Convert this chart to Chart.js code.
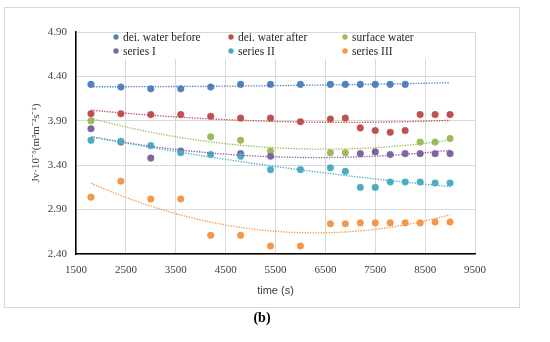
<!DOCTYPE html>
<html>
<head>
<meta charset="utf-8">
<script src="https://cdn.jsdelivr.net/npm/chart.js@4.4.0/dist/chart.umd.min.js"></script>
<style>
  html, body { margin: 0; padding: 0; background: #fff; }
  #wrap { position: relative; width: 550px; height: 342px; }
</style>
</head>
<body>
<div id="wrap"><canvas id="chart" width="550" height="342"></canvas></div>
<script>
"use strict";

// time points (s) shared by all series
const times = [1800, 2400, 3000, 3600, 4200, 4800, 5400, 6000, 6600, 6900, 7200, 7500, 7800, 8100, 8400, 8700, 9000];

// Jv values, null = no marker
const deiBefore = [4.31, 4.28, 4.26, 4.26, 4.28, 4.31, 4.31, 4.31, 4.31, 4.31, 4.31, 4.31, 4.31, 4.31, null, null, null];
const deiAfter = [3.98, 3.98, 3.97, 3.97, 3.95, 3.93, 3.93, 3.89, 3.92, 3.93, 3.82, 3.79, 3.77, 3.79, 3.97, 3.97, 3.97];
const surfaceWater = [3.90, null, null, null, 3.72, 3.68, 3.56, null, 3.54, 3.54, null, null, null, null, 3.66, 3.66, 3.70];
const seriesI = [3.81, 3.66, 3.48, 3.56, null, 3.53, 3.50, null, null, null, 3.53, 3.55, 3.52, 3.53, 3.53, 3.53, 3.53];
const seriesII = [3.68, 3.67, 3.62, 3.54, 3.52, 3.50, 3.35, 3.35, 3.37, 3.33, 3.15, 3.15, 3.21, 3.21, 3.21, 3.20, 3.20];
const seriesIII = [3.04, 3.22, 3.02, 3.02, 2.61, 2.61, 2.49, 2.49, 2.74, 2.74, 2.75, 2.75, 2.75, 2.75, 2.75, 2.76, 2.76];

const seriesNames = ['dei. water before', 'dei. water after', 'surface water', 'series I', 'series II', 'series III'];
const seriesValues = [deiBefore, deiAfter, surfaceWater, seriesI, seriesII, seriesIII];
const seriesColors = ['#4F81BD', '#C0504D', '#9BBB59', '#8064A2', '#4BACC6', '#F79646'];

const yTicks = [2.40, 2.90, 3.40, 3.90, 4.40, 4.90];
const xTicks = [1500, 2500, 3500, 4500, 5500, 6500, 7500, 8500, 9500];

// turn a value list into {x, y} points
function toPoints(vals) {
  const pts = [];
  vals.forEach((v, i) => { if (v !== null) pts.push({x: times[i], y: v}); });
  return pts;
}

// 2nd order polynomial trendline, like excel does it
function quadFit(pts) {
  const s = [0, 0, 0, 0, 0], t = [0, 0, 0];
  pts.forEach(p => {
    const x = p.x / 1000;
    for (let k = 0; k < 5; k++) s[k] += Math.pow(x, k);
    for (let k = 0; k < 3; k++) t[k] += p.y * Math.pow(x, k);
  });
  const m = [[s[0], s[1], s[2], t[0]], [s[1], s[2], s[3], t[1]], [s[2], s[3], s[4], t[2]]];
  for (let c = 0; c < 3; c++) {
    for (let r = c + 1; r < 3; r++) {
      const f = m[r][c] / m[c][c];
      for (let k = c; k < 4; k++) m[r][k] -= f * m[c][k];
    }
  }
  const a = [0, 0, 0];
  for (let r = 2; r >= 0; r--) {
    let v = m[r][3];
    for (let k = r + 1; k < 3; k++) v -= m[r][k] * a[k];
    a[r] = v / m[r][r];
  }
  return x => a[0] + a[1] * (x / 1000) + a[2] * (x / 1000) * (x / 1000);
}

const datasets = [];
seriesValues.forEach((vals, i) => {
  const pts = toPoints(vals);
  datasets.push({
    label: seriesNames[i],
    data: pts,
    showLine: false,
    pointRadius: 3.3,
    pointBorderWidth: 0.5,
    pointBackgroundColor: seriesColors[i],
    pointBorderColor: seriesColors[i],
    order: 20 - i
  });
  const f = quadFit(pts);
  const trend = [];
  for (let x = times[0]; x <= times[times.length - 1]; x += 100) trend.push({x: x, y: f(x)});
  datasets.push({
    label: 'trend ' + seriesNames[i],
    data: trend,
    showLine: true,
    pointRadius: 0,
    borderColor: seriesColors[i],
    borderWidth: 1.33,
    borderDash: [1.33, 1.33],
    tension: 0,
    order: 10 - i
  });
});

// legend sits inside the plot, two rows of three, white box over the grid
const insideLegend = {
  id: 'insideLegend',
  afterDraw(chart) {
    const ctx = chart.ctx;
    ctx.save();
    ctx.fillStyle = '#fff';
    ctx.fillRect(chart.chartArea.left + 1, chart.chartArea.top + 1, chart.chartArea.width - 8, 26);
    const cols = [116, 231, 345];
    const rows = [37, 51];
    ctx.font = '11.5px "Liberation Serif", serif';
    ctx.textBaseline = 'middle';
    seriesNames.forEach((name, i) => {
      const x = cols[i % 3], y = rows[Math.floor(i / 3)];
      ctx.beginPath();
      ctx.arc(x, y, 2.7, 0, Math.PI * 2);
      ctx.fillStyle = seriesColors[i];
      ctx.fill();
      ctx.fillStyle = '#262626';
      ctx.fillText(name, x + 7, y + 0.5);
    });
    // frame round the chart and the panel letter
    ctx.strokeStyle = '#d9d9d9';
    ctx.lineWidth = 1;
    ctx.strokeRect(4.5, 7.5, 515, 300);
    ctx.fillStyle = '#000';
    ctx.font = 'bold 14px "Liberation Serif", serif';
    ctx.textAlign = 'center';
    ctx.fillText('(b)', 262, 318);
    ctx.restore();
  }
};

const chart = new Chart(document.getElementById('chart'), {
  type: 'scatter',
  data: {datasets: datasets},
  plugins: [insideLegend],
  options: {
    responsive: false,
    animation: false,
    devicePixelRatio: 1,
    layout: {padding: {left: 28, top: 32, right: 75, bottom: 44}},
    plugins: {
      legend: {display: false},
      tooltip: {enabled: false}
    },
    scales: {
      x: {
        type: 'linear',
        min: xTicks[0],
        max: xTicks[xTicks.length - 1],
        afterFit: s => { s.height = 44; },
        afterBuildTicks: s => { s.ticks = xTicks.map(v => ({value: v})); },
        ticks: {
          padding: 10,
          color: '#404040',
          font: {family: '"Liberation Serif", serif', size: 11},
          callback: v => String(v)
        },
        grid: {color: '#d9d9d9', drawTicks: false},
        border: {color: '#000', width: 1.5},
        title: {
          display: true,
          text: 'time (s)',
          color: '#404040',
          padding: {top: 2, bottom: 0},
          font: {family: '"Liberation Sans", sans-serif', size: 11}
        }
      },
      y: {
        type: 'linear',
        min: yTicks[0],
        max: yTicks[yTicks.length - 1],
        afterFit: s => { s.width = 48; },
        afterBuildTicks: s => { s.ticks = yTicks.map(v => ({value: v})); },
        ticks: {
          padding: 9,
          color: '#404040',
          font: {family: '"Liberation Serif", serif', size: 11},
          callback: v => Number(v).toFixed(2)
        },
        grid: {color: '#d9d9d9', drawTicks: false},
        border: {color: '#000', width: 1.5},
        title: {
          display: true,
          text: 'Jv·10⁻⁶(m³m⁻²s⁻¹)',
          color: '#404040',
          padding: {top: 2, bottom: 0},
          font: {family: '"Liberation Serif", serif', size: 11}
        }
      }
    }
  }
});
</script>
</body>
</html>
